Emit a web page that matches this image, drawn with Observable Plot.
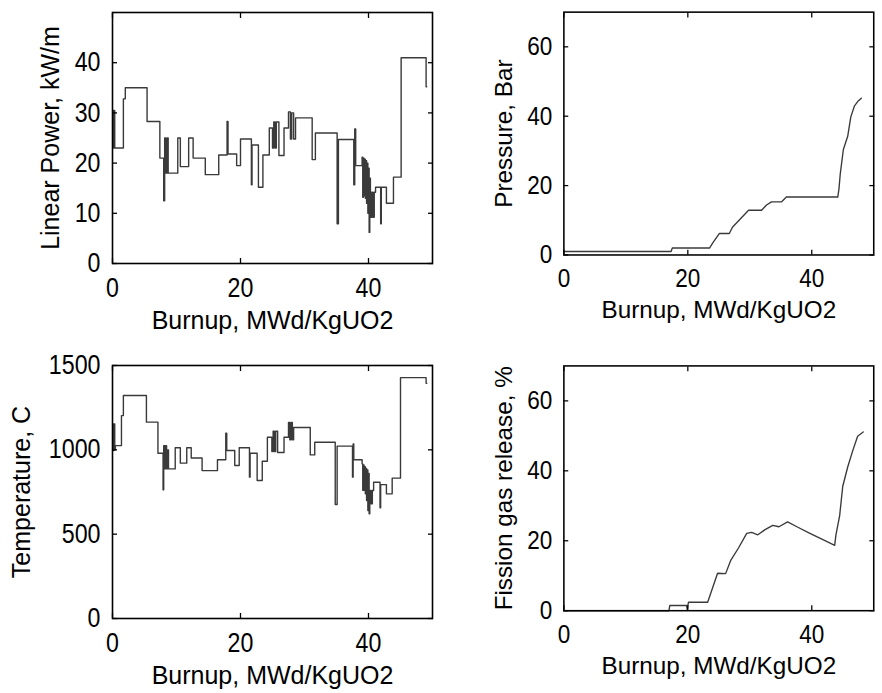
<!DOCTYPE html>
<html><head><meta charset="utf-8">
<script src="https://cdn.jsdelivr.net/npm/d3@7"></script>
<script src="https://cdn.jsdelivr.net/npm/@observablehq/plot@0.6"></script>
<style>
html,body{margin:0;padding:0;background:#fff;overflow:hidden;width:882px;height:693px;}
#wrap{position:relative;width:882px;height:693px;overflow:hidden;background:#fff;}
.panel{position:absolute;}
.panel svg{overflow:visible;background:transparent;}
g[aria-label$="tick label"] text{font-family:"Liberation Sans",Arial,sans-serif;font-size:27px;fill:#000;}
g[aria-label$="axis label"] text{font-family:"Liberation Sans",Arial,sans-serif;font-size:25px;fill:#000;}
</style></head>
<body><div id="wrap"></div>
<script>
// ---- data ----
const xTicks = [0, 20, 40];
const xLabel = "Burnup, MWd/KgUO2";

const powerBurnup = [0.05,0.15,0.25,0.35,1.7,2.0,5.4,7.4,8.0,8.15,8.35,8.55,8.7,10.2,10.6,11.9,12.6,14.5,16.6,17.9,18.05,19.4,20.0,21.7,21.8,22.8,23.5,24.5,25.0,25.2,25.4,25.6,26.0,26.8,27.5,27.8,28.0,28.3,28.6,31.2,31.7,35.1,35.3,37.7,37.85,38.0,39.0,39.1,39.2,39.3,39.4,39.5,39.6,39.7,39.8,39.9,40.0,40.1,40.2,40.3,40.5,40.7,40.9,41.1,41.9,42.0,42.8,43.9,45.1,49.0,49.1];
const powerValue  = [30.5,23,30.5,23,32.8,35,28.3,21,12.5,25,18,25,18,25,19.3,25,21,17.7,21.6,28.3,21.8,19.5,24.8,15.7,23.6,15.2,21.6,27,23,28.2,23,28.2,21.5,27,30.2,24.8,30,24.8,29,20.7,26,7.9,24.7,15.7,26.8,19.5,21.2,13.2,21,13.5,20.8,13,20.5,12,20,10,19,6.2,17,9.2,14.2,9.2,14.2,15.2,7.9,15.2,12,17.2,41,35.2,35.2];
const powerTicks = [0, 10, 20, 30, 40];

const pressureBurnup = [0,17.3,17.5,23.5,24.0,25.1,26.7,27.2,29.8,31.9,32.7,33.5,35.1,35.9,44.2,44.4,44.6,45.1,45.8,46.3,46.9,47.5,48.0];
const pressureValue  = [1.0,1.0,2.0,2.0,3.4,6.2,6.2,8.0,12.9,12.9,14.4,15.3,15.3,16.7,16.7,19.2,23.4,30.4,34.2,39.8,43.0,44.4,45.2];
const pressureTicks = [0, 20, 40, 60];

const tempBurnup = [0.05,0.15,0.25,0.35,0.45,1.4,1.7,5.3,7.1,7.9,8.0,8.15,8.3,8.45,8.6,8.75,9.8,10.6,11.6,12.3,14.0,16.4,17.7,17.85,19.1,19.8,21.4,21.5,22.6,23.4,24.2,24.9,25.1,25.3,25.5,25.8,26.8,27.5,27.7,27.9,28.1,28.3,30.9,31.6,34.8,35.1,37.5,37.6,37.7,39.0,39.1,39.2,39.3,39.4,39.5,39.6,39.7,39.8,39.9,40.0,40.1,40.2,40.4,40.6,40.8,41.8,41.9,42.8,43.7,45.0,49.0,49.1];
const tempValue  = [1154,996,1154,1000,1025,1203,1322,1164,980,763,1025,887,1025,887,1000,887,1012,921,1012,952,877,941,1099,996,907,1012,838,980,818,932,1075,990,1110,990,1110,984,1075,1162,1060,1162,1060,1132,970,1045,676,1022,838,1035,941,917,760,910,760,900,740,890,700,880,640,860,621,759,680,759,808,656,794,739,832,1428,1395,1395];
const tempTicks = [0, 500, 1000, 1500];

const fgrBurnup = [0,16.95,17.1,19.8,19.9,20.1,23.2,23.7,24.8,26.1,26.9,28.2,29.5,30.3,31.3,32.4,33.7,34.7,36.1,37.6,39.7,41.8,43.7,43.9,44.5,45.0,45.8,46.6,47.4,48.3];
const fgrValue  = [0,0,1.5,1.5,0.4,2.4,2.4,5.0,10.7,10.6,14.3,18.0,22.1,22.4,21.7,23.1,24.4,24.0,25.4,24.0,22.1,20.3,18.7,21.7,27.2,35.6,41.1,45.7,49.9,51.1];
const fgrTicks = [0, 20, 40, 60];

// ---- panels ----
function panel({burnup, value, curve, yMax, yTicks, yLabel, yLabelOffset, left, top, width, height, ml, mr, mt, mb}) {
  const data = burnup.map((b, i) => ({b, v: value[i]}));
  const empty = () => "";
  const plain = d => String(d);
  const chart = Plot.plot({
    width, height,
    marginLeft: ml, marginRight: mr, marginTop: mt, marginBottom: mb,
    x: {domain: [0, 50]},
    y: {domain: [0, yMax]},
    style: {background: "transparent", color: "#000"},
    marks: [
      Plot.line(data, {x: "b", y: "v", curve, stroke: "#3a3a3a", strokeWidth: 1.4}),
      Plot.frame({stroke: "#000", strokeWidth: 1.6}),
      Plot.axisX({ticks: xTicks, anchor: "bottom", tickSize: 0, tickPadding: 14, tickFormat: plain,
        label: xLabel, labelAnchor: "center", labelOffset: 65, labelArrow: "none"}),
      Plot.axisX({ticks: xTicks, anchor: "bottom", tickSize: -5, tickFormat: empty, label: null, strokeWidth: 1.3}),
      Plot.axisX({ticks: xTicks, anchor: "top", tickSize: -5, tickFormat: empty, label: null, strokeWidth: 1.3}),
      Plot.axisY({ticks: yTicks, anchor: "left", tickSize: 0, tickPadding: 12, tickFormat: plain,
        label: yLabel, labelAnchor: "center", labelOffset: yLabelOffset, labelArrow: "none"}),
      Plot.axisY({ticks: yTicks, anchor: "left", tickSize: -5, tickFormat: empty, label: null, strokeWidth: 1.3}),
      Plot.axisY({ticks: yTicks, anchor: "right", tickSize: -5, tickFormat: empty, label: null, strokeWidth: 1.3})
    ]
  });
  const div = document.createElement("div");
  div.className = "panel";
  div.style.left = left + "px";
  div.style.top = top + "px";
  div.appendChild(chart);
  document.getElementById("wrap").appendChild(div);
  // narrow the tick digits like the original's condensed face
  chart.querySelectorAll('g[aria-label$="tick label"] text').forEach(t => {
    const len = t.getComputedTextLength();
    if (len > 0) {
      t.setAttribute("textLength", (len * 0.86).toFixed(1));
      t.setAttribute("lengthAdjust", "spacingAndGlyphs");
    }
  });
}

panel({burnup: powerBurnup, value: powerValue, curve: "step-after", yMax: 50, yTicks: powerTicks,
  yLabel: "Linear Power, kW/m", yLabelOffset: 71,
  left: 0, top: 0, width: 441, height: 346, ml: 112, mr: 9, mt: 12, mb: 83});
panel({burnup: pressureBurnup, value: pressureValue, curve: "linear", yMax: 70, yTicks: pressureTicks,
  yLabel: "Pressure, Bar", yLabelOffset: 71,
  left: 441, top: 0, width: 454, height: 346, ml: 126, mr: 9, mt: 12, mb: 84});
panel({burnup: tempBurnup, value: tempValue, curve: "step-after", yMax: 1500, yTicks: tempTicks,
  yLabel: "Temperature, C", yLabelOffset: 100,
  left: 0, top: 346, width: 441, height: 347, ml: 112, mr: 9, mt: 19, mb: 75});
panel({burnup: fgrBurnup, value: fgrValue, curve: "linear", yMax: 70, yTicks: fgrTicks,
  yLabel: "Fission gas release, %", yLabelOffset: 71,
  left: 441, top: 346, width: 454, height: 347, ml: 126, mr: 9, mt: 20, mb: 75});
</script>
</body></html>
